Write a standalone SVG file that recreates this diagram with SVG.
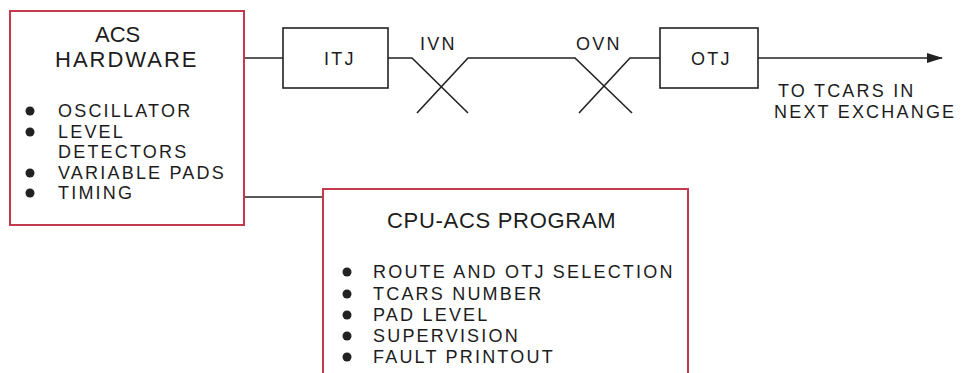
<svg xmlns="http://www.w3.org/2000/svg" width="962" height="373" viewBox="0 0 962 373">
<defs>
<style>
text{font-family:"Liberation Sans",Arial,sans-serif;fill:#1c1c1c;}
.t{font-size:22px;letter-spacing:2px;}
.b{font-size:18px;letter-spacing:2.2px;}
.red{fill:#fff;stroke:#c23a4c;stroke-width:2;}
.box{fill:#fff;stroke:#222;stroke-width:1.6;}
.ln{fill:none;stroke:#222;stroke-width:1.6;}
.dot{fill:#222;}
</style>
<marker id="ah" markerWidth="16" markerHeight="10" refX="15" refY="5" orient="auto" markerUnits="userSpaceOnUse">
<path d="M0,0 L16,5 L0,10 Z" fill="#222"/>
</marker>
</defs>
<rect width="962" height="373" fill="#fff"/>
<g id="connectors">
<path class="ln" d="M244,58 H283"/>
<path class="ln" d="M388,58 H412 L468,113 M417,113 L468,58 H575 L632,113 M579,113 L630,58 H660"/>
<path class="ln" d="M758,58 H942" marker-end="url(#ah)"/>
<path class="ln" d="M244,197 H323"/>
</g>
<g id="acs-hardware">
<rect class="red" x="10" y="11" width="234" height="214"/>
<text class="t" x="95" y="42" style="letter-spacing:0">ACS</text>
<text class="t" x="55" y="67">HARDWARE</text>
<circle class="dot" cx="30" cy="111" r="4.5"/>
<text class="b" x="58" y="117">OSCILLATOR</text>
<circle class="dot" cx="30" cy="132" r="4.5"/>
<text class="b" x="58" y="138">LEVEL</text>
<text class="b" x="58" y="158">DETECTORS</text>
<circle class="dot" cx="30" cy="173" r="4.5"/>
<text class="b" x="58" y="179">VARIABLE PADS</text>
<circle class="dot" cx="30" cy="193" r="4.5"/>
<text class="b" x="58" y="199">TIMING</text>
</g>
<g id="itj">
<rect class="box" x="283" y="28" width="105" height="60"/>
<text class="b" x="324" y="65">ITJ</text>
</g>
<g id="ivn">
<text class="b" x="420" y="50">IVN</text>
</g>
<g id="ovn">
<text class="b" x="576" y="50">OVN</text>
</g>
<g id="otj">
<rect class="box" x="660" y="28" width="98" height="60"/>
<text class="b" x="691" y="65">OTJ</text>
</g>
<g id="next-exchange">
<text class="b" x="778" y="97">TO TCARS IN</text>
<text class="b" x="774" y="118">NEXT EXCHANGE</text>
</g>
<g id="cpu-acs-program">
<rect class="red" x="323" y="189" width="365" height="200"/>
<text class="t" x="387" y="228" style="letter-spacing:0.7px">CPU-ACS PROGRAM</text>
<circle class="dot" cx="347" cy="272" r="4.5"/>
<text class="b" x="373" y="278">ROUTE AND OTJ SELECTION</text>
<circle class="dot" cx="347" cy="294" r="4.5"/>
<text class="b" x="373" y="300">TCARS NUMBER</text>
<circle class="dot" cx="347" cy="315" r="4.5"/>
<text class="b" x="373" y="321">PAD LEVEL</text>
<circle class="dot" cx="347" cy="336" r="4.5"/>
<text class="b" x="373" y="342">SUPERVISION</text>
<circle class="dot" cx="347" cy="357" r="4.5"/>
<text class="b" x="373" y="363">FAULT PRINTOUT</text>
</g>
</svg>
